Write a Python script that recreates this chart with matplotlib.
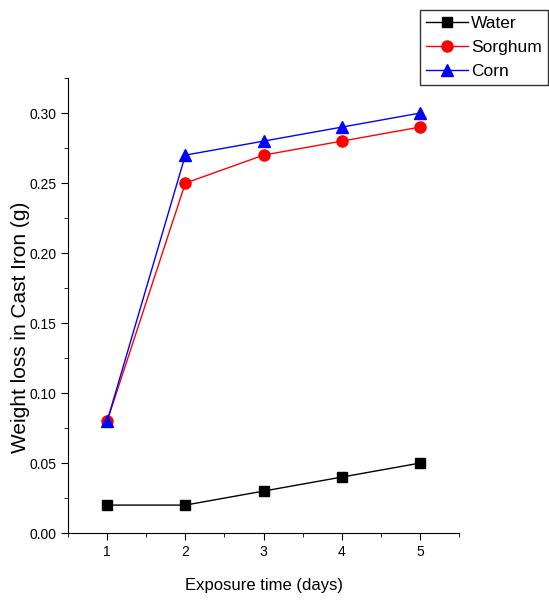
import matplotlib
matplotlib.use("Agg")
import matplotlib.pyplot as plt
from matplotlib.ticker import MultipleLocator
from matplotlib import font_manager

names = {f.name for f in font_manager.fontManager.ttflist}
fam = "Liberation Sans Narrow" if "Liberation Sans Narrow" in names else "Liberation Sans"
plt.rcParams["font.family"] = [fam, "DejaVu Sans"]

days = [1, 2, 3, 4, 5]
water = [0.02, 0.02, 0.03, 0.04, 0.05]
sorghum = [0.08, 0.25, 0.27, 0.28, 0.29]
corn = [0.08, 0.27, 0.28, 0.29, 0.30]

fig = plt.figure(figsize=(5.49, 6.01), dpi=100)
ax = fig.add_axes([0.124, 0.113, 0.712, 0.757])

ax.plot(days, water, color="black", marker="s", markersize=7.5, lw=1, label="Water")
ax.plot(days, sorghum, color="red", marker="o", markersize=8, lw=1, label="Sorghum")
ax.plot(days, corn, color="blue", marker="^", markersize=8.5, lw=1, label="Corn")

ax.set_xlim(0.5, 5.5)
ax.set_ylim(0, 0.325)
ax.xaxis.set_major_locator(MultipleLocator(1))
ax.xaxis.set_minor_locator(MultipleLocator(0.5))
ax.yaxis.set_major_locator(MultipleLocator(0.05))
ax.yaxis.set_minor_locator(MultipleLocator(0.025))
ax.yaxis.set_major_formatter(plt.FormatStrFormatter("%.2f"))
ax.spines["top"].set_visible(False)
ax.spines["right"].set_visible(False)
ax.tick_params(which="major", direction="out", length=5, labelsize=10)
ax.tick_params(which="minor", direction="out", length=3)

ax.set_xlabel("Exposure time (days)", fontsize=12, labelpad=14)
ax.set_ylabel("Weight loss in Cast Iron (g)", fontsize=15)
ax.yaxis.set_label_coords(-0.098, 0.453)

leg = ax.legend(loc="upper left", bbox_to_anchor=(420 / 549, 1 - 10 / 601),
                bbox_transform=fig.transFigure, fontsize=12.5, frameon=True,
                fancybox=False, borderpad=0.35, handlelength=2.4,
                handletextpad=0.2, labelspacing=0.5, borderaxespad=0)
leg.get_frame().set_edgecolor("black")
leg.get_frame().set_linewidth(1)

fig.savefig("out.png", dpi=100)
